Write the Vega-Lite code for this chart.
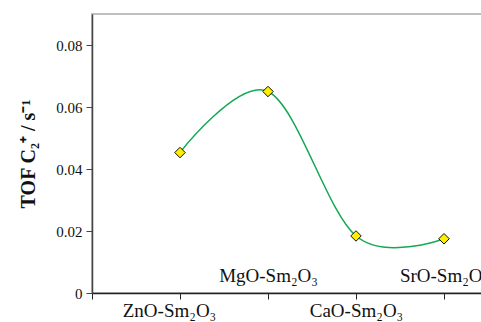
{
  "$schema": "https://vega.github.io/schema/vega-lite/v6.json",
  "autosize": "none",
  "padding": {"left": 92, "top": 14, "right": 0, "bottom": 29},
  "width": 396,
  "height": 279,
  "config": {
    "view": {"stroke": "#aaaaaa", "strokeWidth": 1.5},
    "font": "Liberation Serif"
  },
  "data": {
    "values": [
      {"pos": 1, "catalyst": "ZnO-Sm₂O₃", "tof": 0.0453},
      {"pos": 2, "catalyst": "MgO-Sm₂O₃", "tof": 0.0650},
      {"pos": 3, "catalyst": "CaO-Sm₂O₃", "tof": 0.0184},
      {"pos": 4, "catalyst": "SrO-Sm₂O₃", "tof": 0.0175}
    ]
  },
  "encoding": {
    "x": {
      "field": "pos",
      "type": "quantitative",
      "scale": {"domain": [0, 4.5], "nice": false, "zero": false},
      "axis": {
        "title": null,
        "grid": false,
        "values": [0, 1, 2, 3, 4],
        "labelExpr": "datum.value == 1 ? 'ZnO-Sm₂O₃' : datum.value == 2 ? 'MgO-Sm₂O₃' : datum.value == 3 ? 'CaO-Sm₂O₃' : datum.value == 4 ? 'SrO-Sm₂O₃' : ''",
        "labelOverlap": false,
        "labelFlush": false,
        "labelFont": "Liberation Serif",
        "labelFontSize": 19,
        "labelColor": "#111111",
        "labelBaseline": "top",
        "labelPadding": {"expr": "datum.value % 2 == 0 ? -33 : 2"},
        "labelOffset": {"expr": "datum.value == 1 ? -11 : 0"},
        "domainColor": "#222222",
        "domainWidth": 1.5,
        "tickColor": "#222222",
        "tickSize": 6
      }
    },
    "y": {
      "field": "tof",
      "type": "quantitative",
      "scale": {"domain": [0, 0.09], "nice": false},
      "axis": {
        "title": "TOF C₂⁺ / s⁻¹",
        "titleFont": "Liberation Serif",
        "titleFontSize": 20,
        "titleFontWeight": "bold",
        "titleColor": "#111111",
        "titlePadding": 17,
        "grid": false,
        "values": [0, 0.02, 0.04, 0.06, 0.08],
        "labelExpr": "datum.value == 0 ? '0' : format(datum.value, '.2f')",
        "labelFont": "Liberation Serif",
        "labelFontSize": 15,
        "labelColor": "#111111",
        "labelPadding": 4,
        "domainColor": "#444444",
        "domainWidth": 1.5,
        "tickColor": "#444444",
        "tickSize": 6
      }
    }
  },
  "layer": [
    {
      "mark": {"type": "line", "interpolate": "cardinal", "color": "#13A853", "strokeWidth": 1.5}
    },
    {
      "mark": {"type": "point", "shape": "diamond", "filled": true, "fill": "#FFEE00", "stroke": "#111111", "strokeWidth": 1, "size": 110, "opacity": 1}
    }
  ]
}
